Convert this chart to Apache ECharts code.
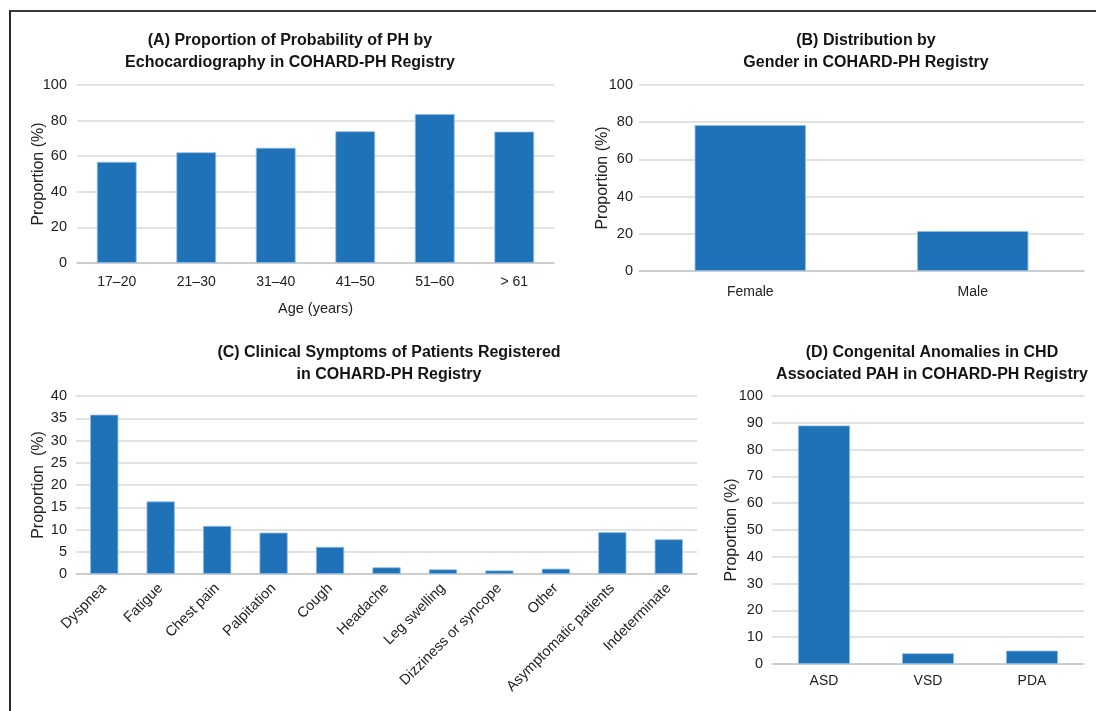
<!DOCTYPE html>
<html>
<head>
<meta charset="utf-8">
<title>COHARD-PH Registry</title>
<script src="https://cdn.jsdelivr.net/npm/echarts@6/dist/echarts.min.js"></script>
<style>
  html, body { margin: 0; padding: 0; background: #ffffff; }
  #chart { width: 1096px; height: 711px; }
</style>
</head>
<body>
<div id="chart"></div>
<script>
// (A) age groups and proportion with PH probability by echocardiography
const ageGroups = ['17\u201320', '21\u201330', '31\u201340', '41\u201350', '51\u201360', '> 61'];
const ageProportion = [56.8, 62.2, 64.7, 74.0, 83.7, 73.8];

// (B) gender distribution
const genders = ['Female', 'Male'];
const genderProportion = [78.5, 21.5];

// (C) clinical symptoms
const symptoms = ['Dyspnea', 'Fatigue', 'Chest pain', 'Palpitation', 'Cough', 'Headache',
  'Leg swelling', 'Dizziness or syncope', 'Other', 'Asymptomatic patients', 'Indeterminate'];
const symptomProportion = [35.8, 16.3, 10.8, 9.3, 6.1, 1.5, 1.05, 0.8, 1.2, 9.4, 7.8];

// (D) congenital anomalies in CHD-associated PAH
const anomalies = ['ASD', 'VSD', 'PDA'];
const anomalyProportion = [89.0, 4.0, 5.0];

const FONT = "'Liberation Sans', Arial, sans-serif";
const TEXT = '#222222';
const BAR = '#1f72b8';
const GRID_LINE = '#d9d9d9';

function titleAt(text, x, top) {
  return {
    text: text,
    left: x,
    top: top,
    textAlign: 'center',
    textStyle: { fontFamily: FONT, fontSize: 16, fontWeight: 'bold', color: '#141414', lineHeight: 22 }
  };
}

function catAxis(idx, data, margin, extra) {
  return Object.assign({
    type: 'category',
    gridIndex: idx,
    data: data,
    axisTick: { show: false },
    axisLine: { lineStyle: { color: '#c6c6c6', width: 1.5 } },
    axisLabel: { fontFamily: FONT, fontSize: 14, color: TEXT, margin: margin }
  }, extra || {});
}

function valAxis(idx, max, interval, name, gap, labelMargin) {
  return {
    type: 'value',
    gridIndex: idx,
    min: 0,
    max: max,
    interval: interval,
    name: name,
    nameLocation: 'middle',
    nameGap: gap,
    nameMoveOverlap: false,
    nameTextStyle: { fontFamily: FONT, fontSize: 16, color: TEXT },
    axisLine: { show: false },
    axisTick: { show: false },
    axisLabel: { fontFamily: FONT, fontSize: 14.5, color: TEXT, margin: labelMargin },
    splitLine: { lineStyle: { color: GRID_LINE, width: 1.5 } }
  };
}

function bars(idx, data) {
  return {
    type: 'bar',
    xAxisIndex: idx,
    yAxisIndex: idx,
    data: data,
    barWidth: '50%',
    itemStyle: { color: BAR, borderColor: '#8fbfe8', borderWidth: 0.8 },
    silent: true
  };
}

const chart = echarts.init(document.getElementById('chart'), null, { renderer: 'canvas' });

chart.setOption({
  animation: false,
  backgroundColor: '#ffffff',
  title: [
    titleAt('(A) Proportion of Probability of PH by\nEchocardiography in COHARD-PH Registry', 285, 25),
    titleAt('(B) Distribution by\nGender in COHARD-PH Registry', 861, 25),
    titleAt('(C) Clinical Symptoms of Patients Registered\nin COHARD-PH Registry', 384, 337),
    titleAt('(D) Congenital Anomalies in CHD\nAssociated PAH in COHARD-PH Registry', 927, 337)
  ],
  grid: [
    { left: 77, top: 85, width: 477, height: 178 },
    { left: 639, top: 85, width: 445, height: 186 },
    { left: 76, top: 396, width: 621, height: 178 },
    { left: 772, top: 396, width: 312, height: 268 }
  ],
  xAxis: [
    catAxis(0, ageGroups, 12, {
      name: 'Age (years)',
      nameLocation: 'middle',
      nameGap: 38,
      nameMoveOverlap: false,
      nameTextStyle: { fontFamily: FONT, fontSize: 14.5, color: TEXT }
    }),
    catAxis(1, genders, 14),
    catAxis(2, symptoms, 12, {
      axisLabel: { fontFamily: FONT, fontSize: 14.5, color: TEXT, margin: 12, rotate: 45, interval: 0 }
    }),
    catAxis(3, anomalies, 10)
  ],
  yAxis: [
    valAxis(0, 100, 20, 'Proportion (%)', 30, 10),
    valAxis(1, 100, 20, 'Proportion (%)', 28, 6),
    valAxis(2, 40, 5, 'Proportion  (%)', 29, 9),
    valAxis(3, 100, 10, 'Proportion (%)', 32, 9)
  ],
  series: [
    bars(0, ageProportion),
    bars(1, genderProportion),
    bars(2, symptomProportion),
    bars(3, anomalyProportion)
  ],
  graphic: [
    // frame: top rule across the page and rule down the left side
    { type: 'line', shape: { x1: 9, y1: 11, x2: 1096, y2: 11 }, style: { stroke: '#3a3a3a', lineWidth: 2 }, silent: true },
    { type: 'line', shape: { x1: 10, y1: 10, x2: 10, y2: 711 }, style: { stroke: '#2a2a2a', lineWidth: 2 }, silent: true }
  ]
});
</script>
</body>
</html>
